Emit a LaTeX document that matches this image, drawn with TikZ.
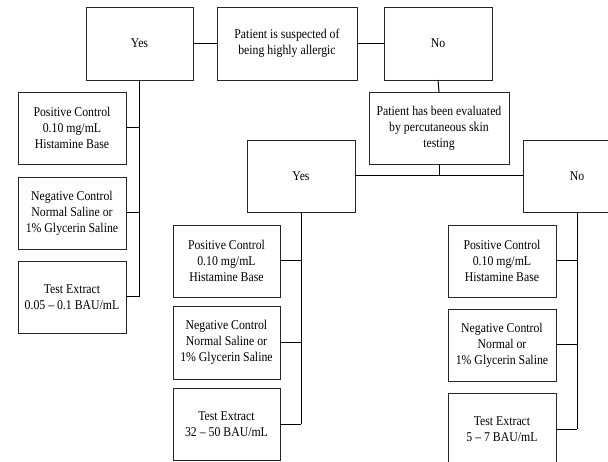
\documentclass[tikz,border=0pt]{standalone}
\usepackage{fontspec}
\setmainfont{Liberation Serif}[FakeStretch=0.88]
\begin{document}
\begin{tikzpicture}[x=1pt,y=-1pt,
  box/.style={draw=black!85, line width=0.8pt, anchor=north west, inner sep=0pt, outer sep=0pt,
    align=center, font=\fontsize{13.4}{16}\selectfont, minimum width=108pt, minimum height=72pt},
  wide/.style={minimum width=140pt},
  link/.style={draw=black, line width=1pt}]
\useasboundingbox (0,0) rectangle (608,462);
\clip (0,0) rectangle (608,462);
% top row
\node[box, minimum width=107pt, minimum height=73pt] (yes1) at (86,7) {Yes};
\node[box, wide, minimum height=73pt] (root) at (217,7) {Patient is suspected of\\being highly allergic};
\node[box, minimum height=73pt] (no1) at (384,7) {No};
% left column
\node[box] (lpc) at (18,92) {Positive Control\\0.10 mg/mL\\Histamine Base};
\node[box] (lnc) at (18,177) {Negative Control\\Normal Saline or\\1\% Glycerin Saline};
\node[box] (lte) at (18,261) {Test Extract\\0.05 – 0.1 BAU/mL};
% evaluation
\node[box, wide] (eval) at (369,92) {Patient has been evaluated\\by percutaneous skin\\testing};
\node[box] (yes2) at (247,140) {Yes};
\node[box] (no2) at (523,140) {No};
% middle column
\node[box, minimum width=107pt] (mpc) at (173,225) {Positive Control\\0.10 mg/mL\\Histamine Base};
\node[box, minimum width=107pt, minimum height=73pt] (mnc) at (173,306) {Negative Control\\Normal Saline or\\1\% Glycerin Saline};
\node[box, minimum width=107pt] (mte) at (173,388) {Test Extract\\32 – 50 BAU/mL};
% right column
\node[box] (rpc) at (448,225) {Positive Control\\0.10 mg/mL\\Histamine Base};
\node[box] (rnc) at (448,309) {Negative Control\\Normal or\\1\% Glycerin Saline};
\node[box] (rte) at (448,393) {Test Extract\\5 – 7 BAU/mL};
% connectors
\draw[link] (yes1.east) -- (root.west);
\draw[link] (root.east) -- (no1.west);
\draw[link] (no1.south) -- (eval.north);
\draw[link] (yes1.south) -- (yes1.south |- lte.east);
\draw[link] (lpc.east) -- (lpc.east -| yes1.south);
\draw[link] (lnc.east) -- (lnc.east -| yes1.south);
\draw[link] (lte.east) -- (lte.east -| yes1.south);
\draw[link] (yes2.east) -- (no2.west);
\draw[link] (eval.south) -- (eval.south |- yes2.east);
\draw[link] (yes2.south) -- (yes2.south |- mte.east);
\draw[link] (mpc.east) -- (mpc.east -| yes2.south);
\draw[link] (mnc.east) -- (mnc.east -| yes2.south);
\draw[link] (mte.east) -- (mte.east -| yes2.south);
\draw[link] (no2.south) -- (no2.south |- rte.east);
\draw[link] (rpc.east) -- (rpc.east -| no2.south);
\draw[link] (rnc.east) -- (rnc.east -| no2.south);
\draw[link] (rte.east) -- (rte.east -| no2.south);
\end{tikzpicture}
\end{document}
